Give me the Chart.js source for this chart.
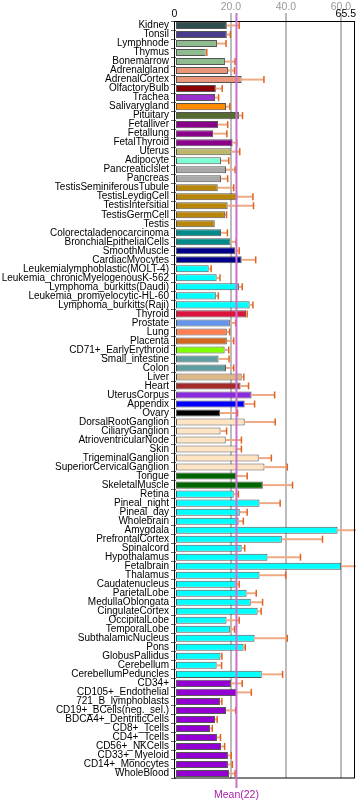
<!DOCTYPE html>
<html><head><meta charset="utf-8">
<script src="https://cdn.jsdelivr.net/npm/chart.js@4.4.1/dist/chart.umd.min.js"></script>
<style>html,body{margin:0;padding:0;background:#fff;}#wrap{width:356px;height:801px;position:relative;}</style>
</head><body><div id="wrap"><canvas id="c"></canvas></div>
<script>
const categories = ["Kidney","Tonsil","Lymphnode","Thymus","Bonemarrow","Adrenalgland","AdrenalCortex","OlfactoryBulb","Trachea","Salivarygland","Pituitary","Fetalliver","Fetallung","FetalThyroid","Uterus","Adipocyte","PancreaticIslet","Pancreas","TestisSeminiferousTubule","TestisLeydigCell","TestisIntersitial","TestisGermCell","Testis","Colorectaladenocarcinoma","BronchialEpithelialCells","SmoothMuscle","CardiacMyocytes","Leukemialymphoblastic(MOLT-4)","Leukemia_chronicMyelogenousK-562","Lymphoma_burkitts(Daudi)","Leukemia_promyelocytic-HL-60","Lymphoma_burkitts(Raji)","Thyroid","Prostate","Lung","Placenta","CD71+_EarlyErythroid","Small_intestine","Colon","Liver","Heart","UterusCorpus","Appendix","Ovary","DorsalRootGanglion","CiliaryGanglion","AtrioventricularNode","Skin","TrigeminalGanglion","SuperiorCervicalGanglion","Tongue","SkeletalMuscle","Retina","Pineal_night","Pineal_day","Wholebrain","Amygdala","PrefrontalCortex","Spinalcord","Hypothalamus","Fetalbrain","Thalamus","Caudatenucleus","ParietalLobe","MedullaOblongata","CingulateCortex","OccipitalLobe","TemporalLobe","SubthalamicNucleus","Pons","GlobusPallidus","Cerebellum","CerebellumPeduncles","CD34+","CD105+_Endothelial","721_B_lymphoblasts","CD19+_BCells(neg._sel.)","BDCA4+_DentriticCells","CD8+_Tcells","CD4+_Tcells","CD56+_NKCells","CD33+_Myeloid","CD14+_Monocytes","WholeBlood"];

const values = [18.5,18.5,14.9,10.8,17.8,18.9,23.9,14.5,14.2,18.2,22.9,15.3,13.5,20.6,19.9,16.4,18.2,16.4,15.2,22.4,18.8,17.8,14.1,16.4,19.8,21.5,23.9,11.9,14.8,22.9,14.5,26.8,25.5,19.6,18.5,18.5,17.7,15.5,18.2,23.9,23.5,27.5,25.0,16.0,25.0,16.2,18.1,22.1,30.1,32.2,21.9,31.6,21.0,30.4,23.2,22.8,58.8,38.5,23.9,33.3,60.1,30.4,21.7,25.7,27.2,29.7,18.4,19.6,28.6,24.6,16.2,14.8,31.2,20.0,22.2,16.0,18.2,14.2,12.4,14.9,16.4,18.9,18.9,19.3];

const errorHigh = [23.0,19.8,18.2,11.2,21.5,21.3,32.0,16.8,15.5,19.6,24.2,18.8,18.5,22.1,23.2,19.2,21.5,18.8,21.0,28.0,28.2,18.4,14.1,18.7,21.9,23.0,29.0,12.8,16.0,24.1,15.4,28.0,25.9,21.7,19.5,21.0,19.2,19.3,21.0,24.7,26.4,35.9,28.6,22.4,36.1,18.4,23.8,23.8,34.7,40.5,25.9,42.4,22.7,37.9,25.9,24.5,72.0,53.3,25.0,45.3,75.0,39.9,23.0,29.2,31.5,31.0,23.0,21.3,40.5,25.2,16.7,16.6,38.8,24.1,27.4,16.7,21.7,15.0,13.2,16.2,17.7,20.1,20.5,21.5];

const gridTicks = [20, 40, 60];
const axisEnds = [0, 65.5];
const meanValue = 22;

const barColors = ["#2F4F4F","#483D8B","#8FBC8F","#8FBC8F","#8FBC8F","#E9967A","#E9967A","#8B0000","#9932CC","#FF8C00","#556B2F","#8B008B","#8B008B","#8B008B","#BDB76B","#7FFFD4","#A9A9A9","#A9A9A9","#B8860B","#B8860B","#B8860B","#B8860B","#B8860B","#008B8B","#008B8B","#00008B","#00008B","#00FFFF","#00FFFF","#00FFFF","#00FFFF","#00FFFF","#DC143C","#6495ED","#FF7F50","#D2691E","#7FFF00","#5F9EA0","#5F9EA0","#DEB887","#A52A2A","#8A2BE2","#0000FF","#000000","#FFE4C4","#FFE4C4","#FFE4C4","#FFE4C4","#FFE4C4","#FFE4C4","#006400","#006400","#00FFFF","#00FFFF","#00FFFF","#00FFFF","#00FFFF","#00FFFF","#00FFFF","#00FFFF","#00FFFF","#00FFFF","#00FFFF","#00FFFF","#00FFFF","#00FFFF","#00FFFF","#00FFFF","#00FFFF","#00FFFF","#00FFFF","#00FFFF","#00FFFF","#9400D3","#9400D3","#9400D3","#9400D3","#9400D3","#9400D3","#9400D3","#9400D3","#9400D3","#9400D3","#9400D3"];

const FONT = "'Liberation Sans', Arial, sans-serif";

const decor = {
  id: 'decor',
  beforeDatasetsDraw(chart) {
    const {ctx, chartArea: a, scales: {x}} = chart;
    ctx.save();
    ctx.strokeStyle = '#BBBBBB';
    ctx.lineWidth = 2;
    gridTicks.forEach(v => {
      const px = Math.round(x.getPixelForValue(v));
      ctx.beginPath(); ctx.moveTo(px, 13); ctx.lineTo(px, a.bottom); ctx.stroke();
    });
    ctx.restore();
  },
  afterDatasetsDraw(chart) {
    const {ctx, chartArea: a, scales: {x}} = chart;
    const meta = chart.getDatasetMeta(0);
    ctx.save();
    meta.data.forEach((el, i) => {
      const x0 = x.getPixelForValue(values[i]);
      const x1 = x.getPixelForValue(errorHigh[i]);
      if (x1 - x0 < 0.5) return;
      ctx.strokeStyle = '#EDAA84';
      ctx.lineWidth = 2;
      ctx.beginPath(); ctx.moveTo(x0, el.y); ctx.lineTo(x1, el.y); ctx.stroke();
      ctx.strokeStyle = '#E0621E';
      ctx.lineWidth = 1.5;
      ctx.beginPath(); ctx.moveTo(x1, el.y - 3.5); ctx.lineTo(x1, el.y + 3.5); ctx.stroke();
    });
    ctx.strokeStyle = '#000';
    ctx.lineWidth = 1;
    ctx.strokeRect(a.left - 1.5, a.top + 0.5, (a.right - 1.5) - (a.left - 1.5), a.bottom - a.top - 0.5);
    const mx = x.getPixelForValue(meanValue);
    ctx.strokeStyle = '#CC6FCC';
    ctx.lineWidth = 2;
    ctx.beginPath(); ctx.moveTo(mx, 13); ctx.lineTo(mx, a.bottom + 10); ctx.stroke();
    ctx.fillStyle = '#A81FA8';
    ctx.font = '10.5px ' + FONT;
    ctx.textAlign = 'center'; ctx.textBaseline = 'middle';
    ctx.fillText('Mean(' + meanValue + ')', mx, a.bottom + 17);
    ctx.fillStyle = '#999';
    gridTicks.forEach(v => ctx.fillText(v.toFixed(1), x.getPixelForValue(v), 7));
    ctx.fillStyle = '#000';
    ctx.fillText(String(axisEnds[0]), a.left - 1.5, 14);
    ctx.textAlign = 'right';
    ctx.fillText(String(axisEnds[1]), a.right, 14);
    ctx.restore();
  }
};

new Chart(document.getElementById('c'), {
  type: 'bar',
  data: {
    labels: categories,
    datasets: [{
      data: values,
      backgroundColor: barColors,
      borderColor: '#555555',
      borderWidth: 1,
      borderSkipped: false,
      barPercentage: 0.78,
      categoryPercentage: 1
    }]
  },
  options: {
    indexAxis: 'y',
    responsive: true,
    maintainAspectRatio: false,
    animation: false,
    layout: {padding: {top: 21, bottom: 23, left: 0, right: 0}},
    plugins: {legend: {display: false}, tooltip: {enabled: false}},
    scales: {
      x: {min: axisEnds[0], max: axisEnds[1], display: false},
      y: {
        ticks: {color: '#000', font: {family: FONT, size: 10}, padding: 2, autoSkip: false},
        grid: {drawOnChartArea: false, tickLength: 5, color: '#666', lineWidth: 1},
        border: {display: false},
        afterFit(s) { s.width = 176; }
      }
    }
  },
  plugins: [decor]
});
</script>
</body></html>
